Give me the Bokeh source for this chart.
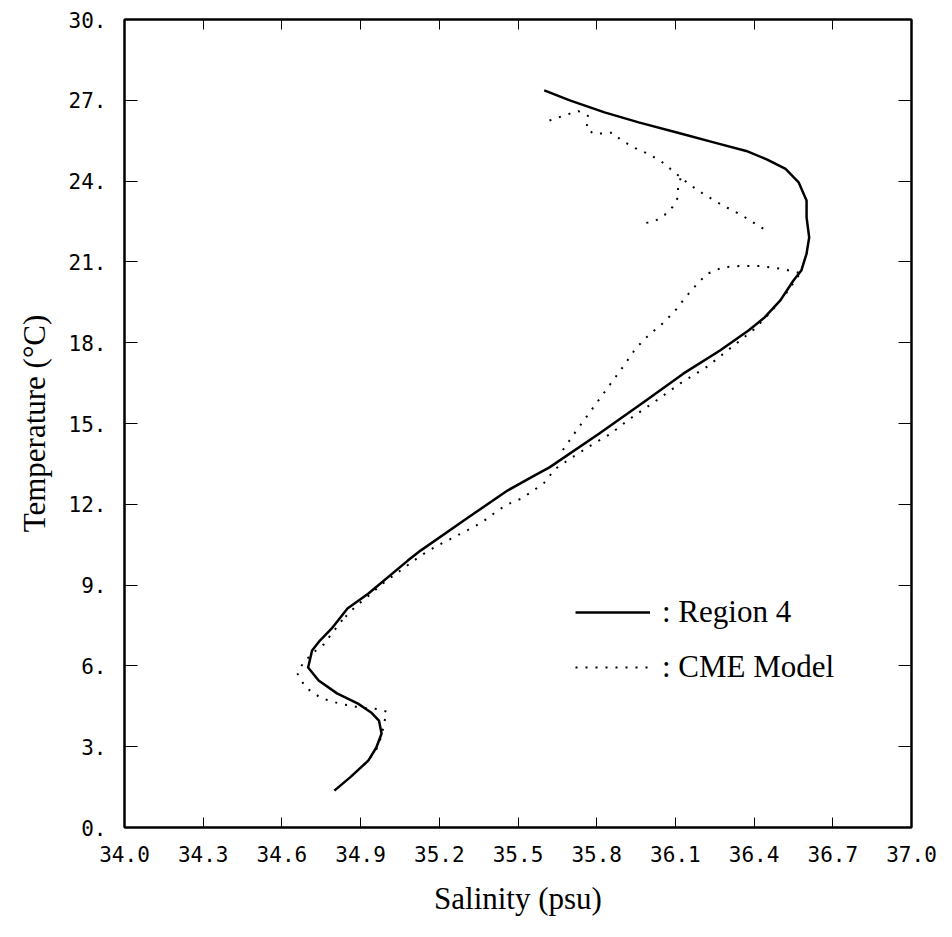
from bokeh.plotting import figure
from bokeh.models import Range1d, FixedTicker, LinearAxis, Legend, LegendItem
from bokeh.embed import file_html
from bokeh.resources import INLINE

# ---------------- data ----------------
x_ticks = [34.0, 34.3, 34.6, 34.9, 35.2, 35.5, 35.8, 36.1, 36.4, 36.7, 37.0]
x_tick_labels = ["34.0", "34.3", "34.6", "34.9", "35.2", "35.5", "35.8", "36.1", "36.4", "36.7", "37.0"]
y_ticks = [0, 3, 6, 9, 12, 15, 18, 21, 24, 27, 30]
y_tick_labels = ["0.", "3.", "6.", "9.", "12.", "15.", "18.", "21.", "24.", "27.", "30."]

# Region 4 (observed) T-S curve
region4_sal = [35.60, 35.70, 35.83, 35.96, 36.12, 36.26, 36.37, 36.45, 36.52, 36.57, 36.60, 36.60,
               36.61, 36.60, 36.58, 36.55, 36.50, 36.44, 36.38, 36.27, 36.13, 35.98, 35.81, 35.62,
               35.55, 35.46, 35.31, 35.13, 35.08, 34.93, 34.85, 34.79, 34.745, 34.715, 34.70, 34.74,
               34.81, 34.89, 34.94, 34.97, 34.98, 34.96, 34.93, 34.86, 34.80]
region4_temp = [27.37, 26.99, 26.55, 26.18, 25.77, 25.40, 25.12, 24.80, 24.45, 23.95, 23.28, 22.65,
                21.91, 21.31, 20.68, 20.31, 19.57, 18.94, 18.46, 17.71, 16.85, 15.80, 14.63, 13.37,
                13.00, 12.51, 11.51, 10.29, 9.91, 8.69, 8.13, 7.39, 6.94, 6.57, 5.94, 5.46,
                4.98, 4.60, 4.27, 3.97, 3.49, 2.97, 2.49, 1.86, 1.37]

# CME model (dotted) pieces
cme_top_sal = [35.62, 35.68, 35.73, 35.77, 35.76, 35.79, 35.86, 35.89, 35.94, 36.00, 36.05, 36.10,
               36.15, 36.21, 36.28, 36.35, 36.44]
cme_top_temp = [26.25, 26.45, 26.6, 26.4, 25.95, 25.75, 25.8, 25.55, 25.25, 25.0, 24.7, 24.3,
                23.9, 23.5, 23.1, 22.75, 22.2]
cme_branch_sal = [36.12, 36.11, 36.11, 36.09, 36.06, 36.02, 35.96]
cme_branch_temp = [24.1, 23.8, 23.4, 23.05, 22.75, 22.5, 22.4]
cme_mid_sal = [36.57, 36.50, 36.42, 36.35, 36.28, 36.22, 36.18, 36.14, 36.10, 36.05, 36.00, 35.95,
               35.90, 35.84, 35.78, 35.72, 35.67]
cme_mid_temp = [20.6, 20.75, 20.85, 20.85, 20.8, 20.55, 20.15, 19.7, 19.2, 18.7, 18.3, 17.8,
                17.1, 16.3, 15.5, 14.7, 14.0]
cme_right_sal = [36.57, 36.52, 36.46, 36.40, 36.31, 36.22, 36.12, 36.02, 35.93, 35.85, 35.78, 35.70,
                 35.64, 35.60, 35.55, 35.51, 35.46, 35.42, 35.38, 35.33, 35.28, 35.24, 35.19, 35.13,
                 35.06, 34.99, 34.93, 34.88, 34.83]
cme_right_temp = [20.5, 19.8, 19.1, 18.5, 17.8, 17.1, 16.5, 15.8, 15.2, 14.6, 14.2, 13.7,
                  13.3, 12.8, 12.45, 12.2, 12.0, 11.75, 11.45, 11.15, 10.9, 10.7, 10.45, 10.1,
                  9.6, 9.1, 8.6, 8.2, 7.7]
cme_deep_sal = [34.83, 34.79, 34.76, 34.72, 34.68, 34.66, 34.69, 34.75, 34.82, 34.90, 34.96, 35.00,
                34.99, 34.98, 34.96, 34.93, 34.90]
cme_deep_temp = [7.7, 7.2, 6.8, 6.5, 6.1, 5.7, 5.2, 4.8, 4.6, 4.45, 4.4, 4.3,
                 3.9, 3.4, 2.9, 2.5, 2.2]

# ---------------- figure ----------------
p = figure(width=952, height=937, output_backend="svg", toolbar_location=None,
           x_range=Range1d(34.0, 37.0), y_range=Range1d(0, 30),
           min_border_left=124, min_border_right=41, min_border_top=19, min_border_bottom=110,
           background_fill_color="white", border_fill_color="white")
p.frame_width = 787
p.frame_height = 808
p.grid.visible = False
p.outline_line_color = "black"
p.outline_line_width = 2

tick_font = "DejaVu Sans Mono"
title_font = "Liberation Serif"

xa = p.xaxis[0]
xa.ticker = FixedTicker(ticks=x_ticks)
xa.major_label_overrides = {t: l for t, l in zip(x_ticks, x_tick_labels)}
xa.major_tick_in = 10
xa.major_tick_out = 0
xa.minor_tick_in = 0
xa.minor_tick_out = 0
xa.axis_line_width = 2
xa.major_label_text_font = tick_font
xa.major_label_text_font_size = "21px"
xa.major_label_text_color = "black"
xa.major_label_standoff = 18
xa.axis_label = "Salinity (psu)"
xa.axis_label_text_font = title_font
xa.axis_label_text_font_size = "31px"
xa.axis_label_text_font_style = "normal"
xa.axis_label_text_color = "black"
xa.axis_label_standoff = 16

ya = p.yaxis[0]
ya.ticker = FixedTicker(ticks=y_ticks)
ya.major_label_overrides = {t: l for t, l in zip(y_ticks, y_tick_labels)}
ya.major_tick_in = 13
ya.major_tick_out = 0
ya.minor_tick_in = 0
ya.minor_tick_out = 0
ya.axis_line_width = 2
ya.major_label_text_font = tick_font
ya.major_label_text_font_size = "21px"
ya.major_label_text_color = "black"
ya.major_label_standoff = 18
ya.axis_label = "Temperature (°C)"
ya.axis_label_text_font = title_font
ya.axis_label_text_font_size = "31px"
ya.axis_label_text_font_style = "normal"
ya.axis_label_text_color = "black"
ya.axis_label_standoff = 14

top = LinearAxis(ticker=FixedTicker(ticks=x_ticks), major_tick_in=10, major_tick_out=0,
                 minor_tick_in=0, minor_tick_out=0, major_label_text_color=None,
                 major_label_text_alpha=0, major_label_standoff=0, axis_line_width=2)
right = LinearAxis(ticker=FixedTicker(ticks=y_ticks), major_tick_in=13, major_tick_out=0,
                   minor_tick_in=0, minor_tick_out=0, major_label_text_color=None,
                   major_label_text_alpha=0, major_label_standoff=0, axis_line_width=2)
p.add_layout(top, "above")
p.add_layout(right, "right")

r_obs = p.line(region4_sal, region4_temp, line_color="black", line_width=2.5, line_join="round")
r_cme = p.multi_line(
    xs=[cme_top_sal, cme_branch_sal, cme_mid_sal, cme_right_sal, cme_deep_sal],
    ys=[cme_top_temp, cme_branch_temp, cme_mid_temp, cme_right_temp, cme_deep_temp],
    line_color="black", line_width=2, line_dash="2 8")

legend = Legend(items=[LegendItem(label=": Region 4", renderers=[r_obs]),
                       LegendItem(label=": CME Model", renderers=[r_cme])],
                location=(451, 140), glyph_width=75, glyph_height=40, label_height=40,
                spacing=15, padding=0, margin=0, label_standoff=12,
                label_text_font=title_font, label_text_font_size="31px",
                label_text_color="black",
                border_line_alpha=0, background_fill_alpha=0)
p.add_layout(legend, "center")

open("out.html", "w").write(file_html(p, INLINE))
